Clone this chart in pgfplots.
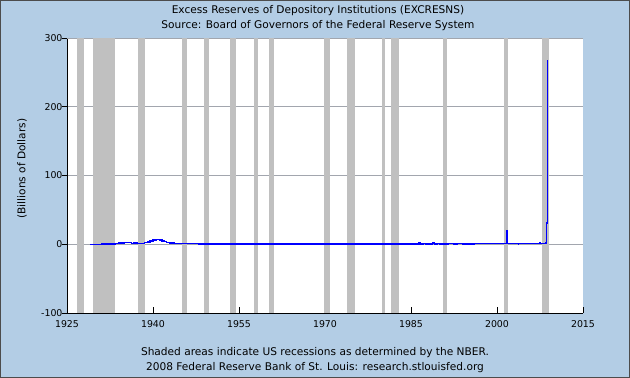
\documentclass[border=0pt]{standalone}
\usepackage{pgfplots}
\pgfplotsset{compat=1.18}
\usepackage{fontspec}
\setmainfont{DejaVu Sans}
\definecolor{bgblue}{HTML}{B3CDE5}
\definecolor{recgray}{HTML}{C0C0C0}
\definecolor{gridgray}{HTML}{A2A6AE}
\definecolor{lineblue}{HTML}{0000FF}
\begin{document}
\begin{tikzpicture}[x=1pt,y=1pt,font=\fontsize{10.6}{12}\selectfont]
\fill[bgblue] (0,0) rectangle (630,378);
\draw[black!70,line width=0.8pt] (0.4,0.4) rectangle (629.6,377.6);
\node at (318,367) {Excess Reserves of Depository Institutions (EXCRESNS)};
\node at (318,352.5) {Source: Board of Governors of the Federal Reserve System};
\node at (315,25) {Shaded areas indicate US recessions as determined by the NBER.};
\node at (315,10.5) {2008 Federal Reserve Bank of St. Louis: research.stlouisfed.org};
\begin{axis}[
  at={(67pt,65pt)}, anchor=south west,
  scale only axis, width=516pt, height=275pt,
  xmin=1925, xmax=2015, ymin=-100, ymax=300,
  axis background/.style={fill=white},
  axis x line=bottom, axis y line=left,
  axis line style={-, black, line width=0.9pt},
  xtick={1925,1940,1955,1970,1985,2000,2015},
  ytick={-100,0,100,200,300},
  tick label style={font=\fontsize{9.4}{11}\selectfont},
  xticklabel style={/pgf/number format/1000 sep=, yshift=-4pt},
  yticklabel style={xshift=-1pt},
  /pgf/number format/assume math mode=true,
  tick align=inside, major tick length=5.5pt,
  y tick style={xshift=-5pt, black, line width=0.8pt},
  x tick style={black, line width=0.8pt},
  ymajorgrids, grid style={gridgray, line width=0.8pt},
  extra y ticks={300}, extra y tick labels={}, extra y tick style={grid style={gridgray}},
  ylabel={(Billions of Dollars)},
  ylabel style={at={(axis description cs:-0.087,0.525)}, anchor=center, rotate=0},
  clip=true,
]
% recession bands
\addplot[fill=recgray, draw=none] coordinates {(1926.75,-100)(1926.75,300)(1927.9,300)(1927.9,-100)} -- cycle;
\addplot[fill=recgray, draw=none] coordinates {(1929.6,-100)(1929.6,300)(1933.3,300)(1933.3,-100)} -- cycle;
\addplot[fill=recgray, draw=none] coordinates {(1937.4,-100)(1937.4,300)(1938.55,300)(1938.55,-100)} -- cycle;
\addplot[fill=recgray, draw=none] coordinates {(1945.05,-100)(1945.05,300)(1945.85,300)(1945.85,-100)} -- cycle;
\addplot[fill=recgray, draw=none] coordinates {(1948.85,-100)(1948.85,300)(1949.85,300)(1949.85,-100)} -- cycle;
\addplot[fill=recgray, draw=none] coordinates {(1953.5,-100)(1953.5,300)(1954.45,300)(1954.45,-100)} -- cycle;
\addplot[fill=recgray, draw=none] coordinates {(1957.6,-100)(1957.6,300)(1958.35,300)(1958.35,-100)} -- cycle;
\addplot[fill=recgray, draw=none] coordinates {(1960.3,-100)(1960.3,300)(1961.15,300)(1961.15,-100)} -- cycle;
\addplot[fill=recgray, draw=none] coordinates {(1969.9,-100)(1969.9,300)(1970.9,300)(1970.9,-100)} -- cycle;
\addplot[fill=recgray, draw=none] coordinates {(1973.85,-100)(1973.85,300)(1975.25,300)(1975.25,-100)} -- cycle;
\addplot[fill=recgray, draw=none] coordinates {(1980.0,-100)(1980.0,300)(1980.55,300)(1980.55,-100)} -- cycle;
\addplot[fill=recgray, draw=none] coordinates {(1981.5,-100)(1981.5,300)(1982.9,300)(1982.9,-100)} -- cycle;
\addplot[fill=recgray, draw=none] coordinates {(1990.5,-100)(1990.5,300)(1991.25,300)(1991.25,-100)} -- cycle;
\addplot[fill=recgray, draw=none] coordinates {(2001.15,-100)(2001.15,300)(2001.9,300)(2001.9,-100)} -- cycle;
\addplot[fill=recgray, draw=none] coordinates {(2007.85,-100)(2007.85,300)(2009.1,300)(2009.1,-100)} -- cycle;
% excess reserves
\addplot[lineblue, line width=1.4pt, const plot] coordinates {
(1929.0,0.04)(1930.0,0.05)(1931.0,0.1)(1932.0,0.3)(1932.5,0.4)(1933.0,0.6)
(1933.5,0.8)(1934.0,1.6)(1934.5,1.8)(1935.0,2.3)(1935.5,2.8)(1936.0,2.9)
(1936.3,1.4)(1936.6,2.0)(1937.0,1.8)(1937.3,0.9)(1937.6,0.7)(1938.0,1.4)
(1938.5,2.9)(1939.0,3.5)(1939.5,4.6)(1940.0,6.0)(1940.5,6.6)(1940.9,6.8)
(1941.2,6.0)(1941.6,5.0)(1941.9,3.6)(1942.4,2.8)(1942.9,2.1)(1943.3,1.7)
(1943.8,1.2)(1944.5,1.1)(1945.5,1.0)(1946.5,0.7)(1948.0,0.6)(1950.0,0.5)
(1955.0,0.4)(1960.0,0.4)(1965.0,0.3)(1970.0,0.2)(1975.0,0.2)(1980.0,0.3)
(1985.0,0.5)(1986.3,1.6)(1986.6,0.5)(1987.2,1.4)(1987.5,0.5)(1988.0,1.5)
(1988.3,0.6)(1988.8,1.6)(1989.1,0.5)(1989.6,1.3)(1990.0,0.5)(1990.4,1.5)
(1990.7,0.5)(1991.5,0.9)(1992.0,1.2)(1992.5,0.5)(1993.0,1.0)(1994.0,0.6)
(1995.0,0.6)(1996.0,0.7)(1997.0,0.8)(1998.0,0.9)(1999.0,0.8)(2000.0,0.7)
(2001.0,0.8)(2001.55,0.8)(2001.62,9.0)(2001.7,19.0)(2001.76,1.0)(2003.6,1.0)
(2003.7,0.3)(2003.8,1.0)(2007.4,1.0)(2007.5,2.6)(2007.6,1.0)(2008.55,1.8)
(2008.6,31.0)(2008.78,267.0)(2008.8,267.0)
};
\end{axis}
\end{tikzpicture}
\end{document}
